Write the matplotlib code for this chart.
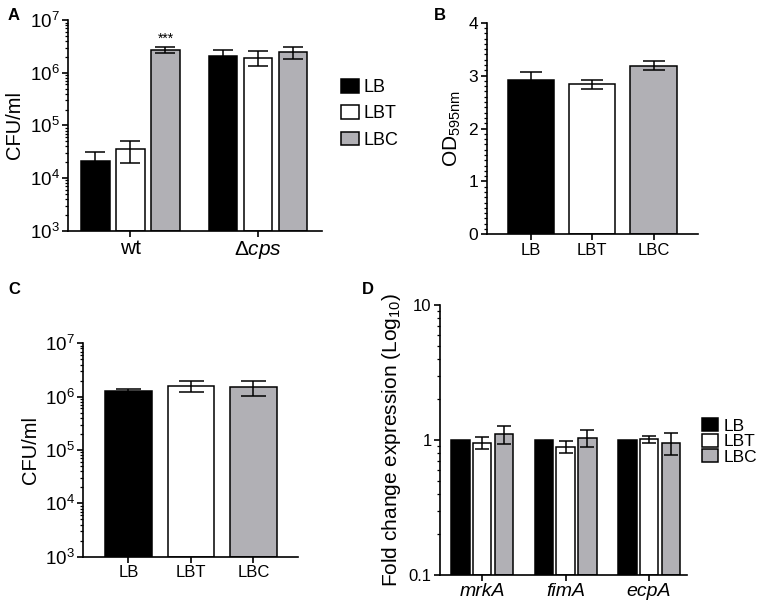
import numpy as np
import matplotlib
matplotlib.use('Agg')
import matplotlib.pyplot as plt
from matplotlib.ticker import LogLocator, FixedLocator, MultipleLocator, FuncFormatter
from matplotlib.patches import Patch

plt.rcParams['font.family'] = ['Liberation Sans', 'DejaVu Sans']
plt.rcParams['mathtext.fontset'] = 'custom'
plt.rcParams['mathtext.rm'] = 'Liberation Sans'
plt.rcParams['mathtext.it'] = 'Liberation Sans:italic'
plt.rcParams['axes.linewidth'] = 1.2

# donnees
media = ['LB', 'LBT', 'LBC']
colors = ['black', 'white', '#b1b0b5']

# A - CFU/ml, wt vs delta cps
strains = ['wt', 'Δ$\\it{cps}$']
a_mean = {'LB': [2.15e4, 2.05e6], 'LBT': [3.5e4, 1.95e6], 'LBC': [2.7e6, 2.45e6]}
a_err = {'LB': [1.0e4, 0.7e6], 'LBT': [1.6e4, 0.6e6], 'LBC': [0.35e6, 0.65e6]}

# B - OD595
b_mean = [2.92, 2.84, 3.19]
b_err = [0.14, 0.085, 0.09]

# C - CFU/ml
c_mean = [1.26e6, 1.61e6, 1.52e6]
c_err = [0.11e6, 0.38e6, 0.48e6]

# D - fold change
genes = ['mrkA', 'fimA', 'ecpA']
d_mean = {'LB': [1.0, 1.0, 1.0], 'LBT': [0.955, 0.893, 1.01], 'LBC': [1.10, 1.04, 0.956]}
d_err = {'LB': [0, 0, 0], 'LBT': [0.095, 0.09, 0.055], 'LBC': [0.16, 0.15, 0.18]}

fig = plt.figure(figsize=(7.65, 6.05), dpi=100)


def style(ax, ysize=12):
    ax.spines['top'].set_visible(False)
    ax.spines['right'].set_visible(False)
    ax.tick_params(axis='both', which='major', length=4, width=1.2, pad=2)
    ax.tick_params(axis='y', which='major', labelsize=ysize)
    ax.tick_params(axis='y', which='minor', length=2.5, width=0.9)
    ax.tick_params(axis='x', which='minor', bottom=False)


def pow10(v, pos):
    return '$10^{%d}$' % int(round(np.log10(v)))


# A
axA = fig.add_axes([0.0889, 0.6187, 0.332, 0.348])
axA.set_yscale('log')
off = 0.2745
x = np.arange(len(strains))
for i, m in enumerate(media):
    axA.bar(x + (i - 1) * off, np.array(a_mean[m]) - 1e3, 0.227, bottom=1e3, color=colors[i],
            edgecolor='black', linewidth=1.1)
    axA.errorbar(x + (i - 1) * off, a_mean[m], yerr=a_err[m], fmt='none',
                 ecolor='black', elinewidth=1.1, capsize=7, capthick=1.1)
axA.text(0 + off, 3.25e6, '***', ha='center', va='bottom', fontsize=10)
axA.set_ylim(1e3, 1e7)
axA.set_xlim(-0.49, 1.502)
axA.set_xticks(x)
axA.set_xticklabels(strains, fontsize=15)
axA.yaxis.set_major_formatter(FuncFormatter(pow10))
axA.yaxis.set_minor_locator(LogLocator(base=10, subs=np.arange(2, 10)))
axA.set_ylabel('CFU/ml', fontsize=14.5)
style(axA, 13.5)
handles = [Patch(facecolor=c, edgecolor='black', linewidth=1.1) for c in colors]
axA.legend(handles, media, loc='upper left', bbox_to_anchor=(1.075, 0.72), frameon=False,
           borderaxespad=0, borderpad=0, fontsize=13, handlelength=0.97, handleheight=0.8,
           labelspacing=0.5, handletextpad=0.3)

# B
axB = fig.add_axes([0.636, 0.6127, 0.276, 0.3498])
xb = np.arange(len(media))
axB.bar(xb, b_mean, 0.756, color=colors, edgecolor='black', linewidth=1.1)
axB.errorbar(xb, b_mean, yerr=b_err, fmt='none', ecolor='black', elinewidth=1.1,
             capsize=8, capthick=1.1)
axB.set_ylim(0, 4)
axB.set_xlim(-0.72, 2.716)
axB.set_xticks(xb)
axB.set_xticklabels(media, fontsize=12)
axB.yaxis.set_major_locator(MultipleLocator(1))
axB.yaxis.set_minor_locator(MultipleLocator(0.1))
axB.set_ylabel('OD$_{595\\mathrm{nm}}$', fontsize=15)
style(axB, 12.5)

# C
axC = fig.add_axes([0.109, 0.0798, 0.280, 0.3528])
axC.set_yscale('log')
xc = np.arange(len(media))
axC.bar(xc, np.array(c_mean) - 1e3, 0.746, bottom=1e3, color=colors, edgecolor='black', linewidth=1.1)
axC.errorbar(xc, c_mean, yerr=c_err, fmt='none', ecolor='black', elinewidth=1.1,
             capsize=9, capthick=1.1)
axC.set_ylim(1e3, 1e7)
axC.set_xlim(-0.719, 2.706)
axC.set_xticks(xc)
axC.set_xticklabels(media, fontsize=12)
axC.yaxis.set_major_formatter(FuncFormatter(pow10))
axC.yaxis.set_minor_locator(LogLocator(base=10, subs=np.arange(2, 10)))
axC.set_ylabel('CFU/ml', fontsize=14.5)
style(axC, 13.5)

# D
axD = fig.add_axes([0.575, 0.0496, 0.3225, 0.4463])
axD.set_yscale('log')
offd = 0.261
xd = np.arange(len(genes))
for i, m in enumerate(media):
    axD.bar(xd + (i - 1) * offd, np.array(d_mean[m]) - 0.1, 0.222, bottom=0.1, color=colors[i],
            edgecolor='black', linewidth=1.1)
    if m != 'LB':
        axD.errorbar(xd + (i - 1) * offd, d_mean[m], yerr=d_err[m], fmt='none',
                     ecolor='black', elinewidth=1.1, capsize=5, capthick=1.1)
axD.set_ylim(0.1, 10)
axD.set_xlim(-0.507, 2.45)
axD.set_xticks(xd)
axD.set_xticklabels(genes, fontsize=14, style='italic')
axD.yaxis.set_major_locator(FixedLocator([0.1, 1, 10]))
axD.yaxis.set_major_formatter(FuncFormatter(lambda v, p: '%g' % v))
axD.yaxis.set_minor_locator(LogLocator(base=10, subs=np.arange(2, 10)))
axD.yaxis.set_minor_formatter(FuncFormatter(lambda v, p: ''))
axD.set_ylabel('Fold change expression (Log$_{10}$)', fontsize=15)
style(axD, 12)
axD.legend(handles, media, loc='upper left', bbox_to_anchor=(1.061, 0.58), frameon=False,
           borderaxespad=0, borderpad=0, fontsize=12.5, handlelength=0.95, handleheight=0.75,
           labelspacing=0.0, handletextpad=0.3)

# lettres des panneaux
for lab, (px, py) in zip('ABCD', [(14, 15), (440, 15), (14, 289), (368, 289)]):
    fig.text(px / 765, 1 - py / 605, lab, fontsize=12, fontweight='bold', ha='center', va='center')

plt.savefig('out.png', dpi=100)
